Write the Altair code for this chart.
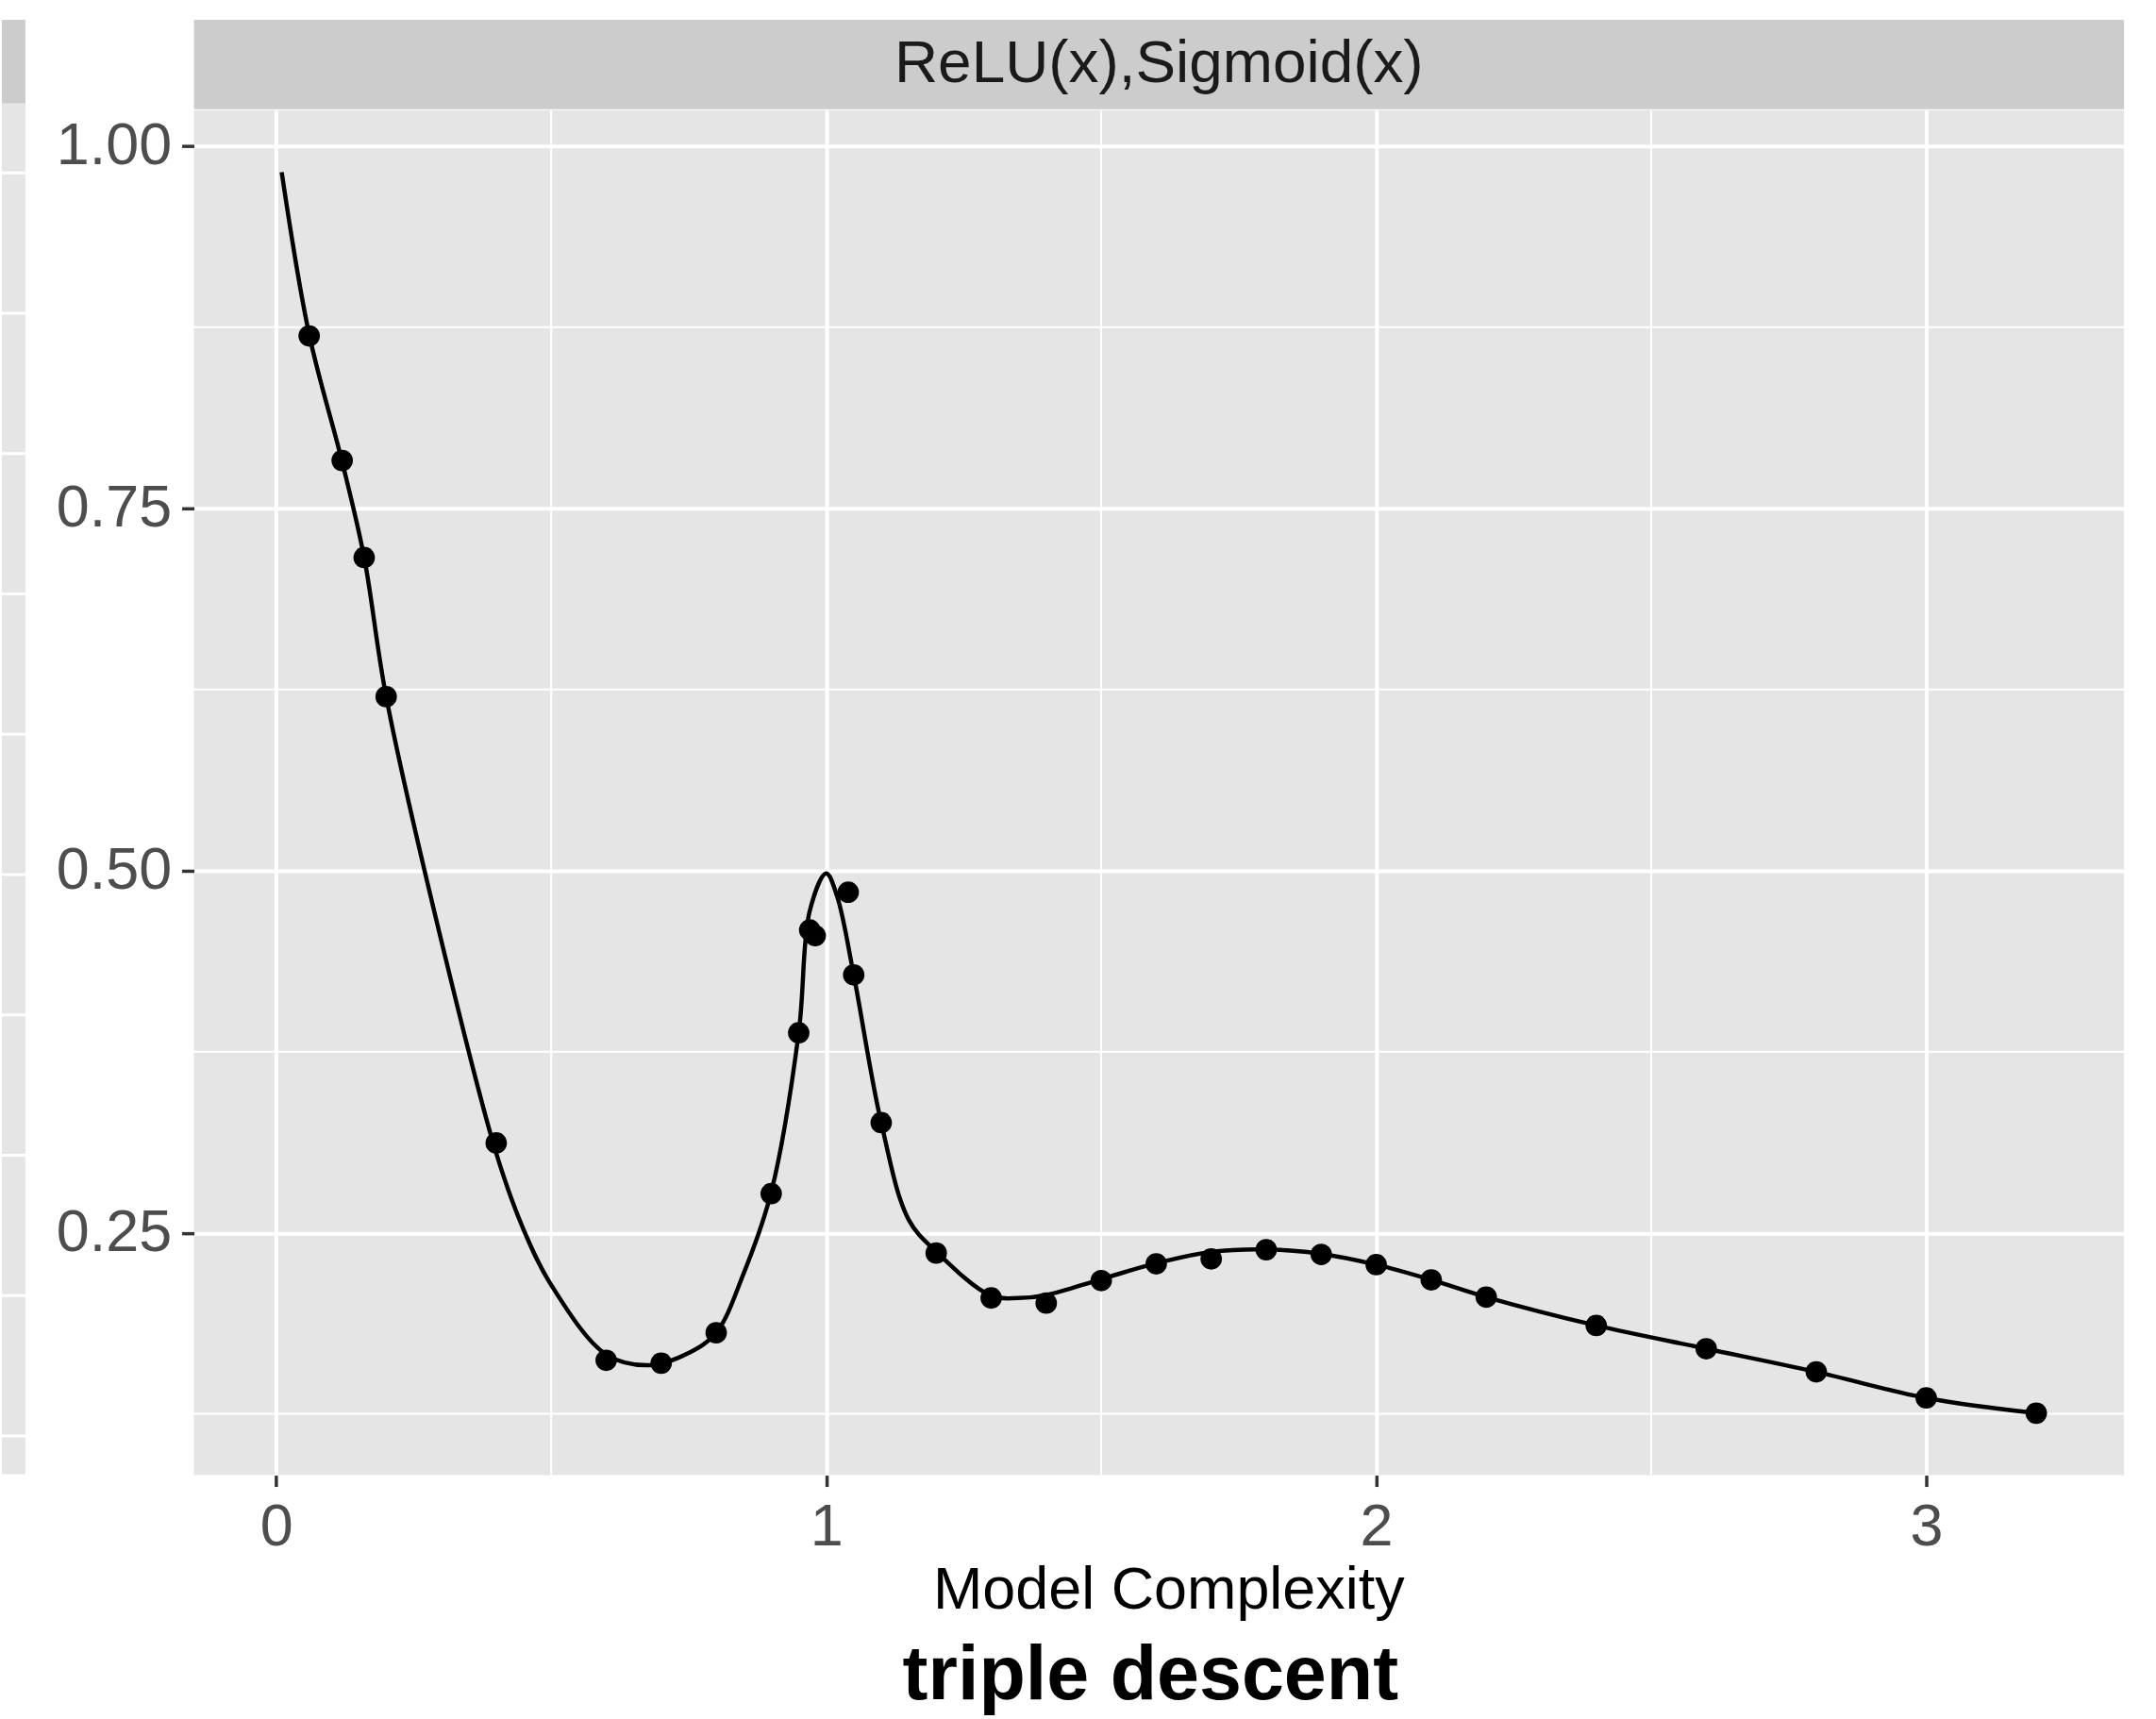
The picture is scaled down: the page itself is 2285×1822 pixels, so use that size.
import altair as alt
import pandas as pd

FONT = "Liberation Sans"

# Facet label and titles
strip_label = "ReLU(x),Sigmoid(x)"
x_title = "Model Complexity"
main_title = "triple descent"

# Observed test error at each model complexity
point_x = [0.06, 0.12, 0.16, 0.20, 0.40, 0.60, 0.70, 0.80, 0.90, 0.95, 0.97, 0.98,
           1.04, 1.05, 1.10, 1.20, 1.30, 1.40, 1.50, 1.60, 1.70, 1.80, 1.90, 2.00,
           2.10, 2.20, 2.40, 2.60, 2.80, 3.00, 3.20]
point_y = [0.869, 0.783, 0.716, 0.620, 0.312, 0.162, 0.160, 0.181, 0.277, 0.388, 0.459, 0.455,
           0.485, 0.428, 0.326, 0.236, 0.205, 0.2015, 0.217, 0.2286, 0.232, 0.2383, 0.2351, 0.228,
           0.2175, 0.2056, 0.186, 0.170, 0.154, 0.136, 0.1255]

# Smooth error curve
curve_x = [0.01, 0.06, 0.12, 0.16, 0.20, 0.30, 0.40, 0.45, 0.50, 0.60, 0.68, 0.75, 0.80,
           0.85, 0.90, 0.95, 0.97, 1.00, 1.02, 1.05, 1.10, 1.15, 1.20, 1.30, 1.35, 1.40,
           1.50, 1.60, 1.70, 1.80, 1.90, 2.00, 2.10, 2.20, 2.40, 2.60, 2.80, 3.00, 3.20]
curve_y = [0.982, 0.870, 0.782, 0.716, 0.620, 0.452, 0.305, 0.252, 0.214, 0.166, 0.1586, 0.167, 0.181,
           0.222, 0.278, 0.388, 0.472, 0.498, 0.482, 0.428, 0.326, 0.259, 0.237, 0.2065, 0.205, 0.207,
           0.218, 0.229, 0.2368, 0.2385, 0.2355, 0.228, 0.2175, 0.2056, 0.186, 0.170, 0.154, 0.136, 0.1255]

x_ticks = [0, 1, 2, 3]
y_ticks = [0.25, 0.50, 0.75, 1.00]
x_minor = [0.5, 1.5, 2.5]
y_minor = [0.125, 0.375, 0.625, 0.875]

# Grid of the neighbouring facet, cut at the left edge
sliver_grid = [0, 1, 2, 3, 4, 5, 6, 7, 8, 9]

PANEL_W, PANEL_H = 2050, 1450
STRIP_H = 95
SLIVER_W = 25
PANEL_BG = "#e5e5e5"
STRIP_BG = "#cccccc"

x_scale = alt.Scale(domain=[-0.1495, 3.3595], nice=False, zero=False)
y_scale = alt.Scale(domain=[0.0827, 1.0248], nice=False, zero=False)

x_axis = alt.Axis(
    values=x_ticks, format="d", title=x_title, grid=True, gridColor="white", gridWidth=4,
    domain=False, tickColor="#333333", tickWidth=3.5, tickSize=12, labelPadding=12,
    labelFont=FONT, labelFontSize=63, labelColor="#4d4d4d", labelFlush=False,
    titleFont=FONT, titleFontSize=63, titleFontWeight="normal", titleColor="black",
    titleBaseline="top", titleY=91, titleX=PANEL_W / 2 + 10,
)
y_axis = alt.Axis(
    values=y_ticks, format=".2f", title=None, grid=True, gridColor="white", gridWidth=4,
    domain=False, tickColor="#333333", tickWidth=3.5, tickSize=13, labelPadding=11,
    labelFont=FONT, labelFontSize=63, labelColor="#4d4d4d", labelFlush=False,
)

pts = pd.DataFrame({"x": point_x, "y": point_y})
crv = pd.DataFrame({"x": curve_x, "y": curve_y})

minor_v = alt.Chart(pd.DataFrame({"x": x_minor})).mark_rule(
    color="white", strokeWidth=2
).encode(x=alt.X("x:Q", scale=x_scale, axis=x_axis))

minor_h = alt.Chart(pd.DataFrame({"y": y_minor})).mark_rule(
    color="white", strokeWidth=2
).encode(y=alt.Y("y:Q", scale=y_scale, axis=y_axis))

line = alt.Chart(crv).mark_line(
    color="black", strokeWidth=4.5, interpolate="catmull-rom"
).encode(
    x=alt.X("x:Q", scale=x_scale, axis=x_axis),
    y=alt.Y("y:Q", scale=y_scale, axis=y_axis),
)

dots = alt.Chart(pts).mark_circle(color="black", opacity=1, size=520).encode(
    x=alt.X("x:Q", scale=x_scale, axis=x_axis),
    y=alt.Y("y:Q", scale=y_scale, axis=y_axis),
)

panel = alt.layer(minor_v, minor_h, line, dots).properties(
    width=PANEL_W, height=PANEL_H,
    view=alt.ViewBackground(fill=PANEL_BG, stroke=None),
    title=alt.TitleParams(
        text=main_title, orient="bottom", anchor="middle", frame="group",
        font=FONT, fontSize=81, fontWeight="bold", color="black", offset=20, dx=-9,
    ),
)

strip = alt.Chart(pd.DataFrame({"label": [strip_label]})).mark_text(
    font=FONT, fontSize=64, color="#1a1a1a", align="center", baseline="middle"
).encode(
    text="label:N", x=alt.value(PANEL_W / 2), y=alt.value(STRIP_H / 2)
).properties(width=PANEL_W, height=STRIP_H, view=alt.ViewBackground(fill=STRIP_BG, stroke=None))

sliver_strip = alt.Chart(pd.DataFrame({"t": [""]})).mark_text().encode(
    text="t:N"
).properties(width=SLIVER_W, height=89, view=alt.ViewBackground(fill=STRIP_BG, stroke=None))

sliver_panel = alt.Chart(pd.DataFrame({"g": sliver_grid})).mark_rule(
    color="white", strokeWidth=3
).encode(
    y=alt.Y("g:Q", scale=alt.Scale(domain=[-0.273, 9.494], nice=False, zero=False), axis=None)
).properties(width=SLIVER_W, height=1456, view=alt.ViewBackground(fill=PANEL_BG, stroke=None))

left_col = alt.vconcat(sliver_strip, sliver_panel, spacing=0)
right_col = alt.vconcat(strip, panel, spacing=0)

chart = alt.hconcat(left_col, right_col, spacing=30).properties(
    padding={"left": 0, "top": 19, "right": 33, "bottom": 5},
    background="white",
).configure_view(stroke=None)

chart.save("out.html", embed_options={"renderer": "svg", "actions": False})
